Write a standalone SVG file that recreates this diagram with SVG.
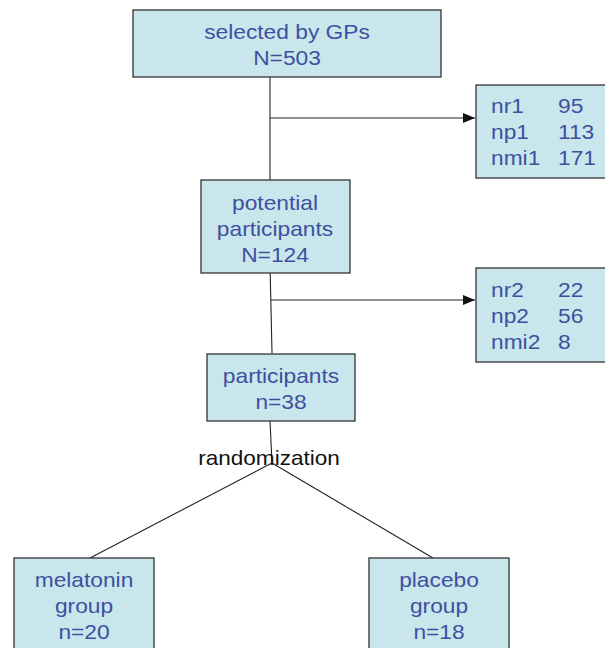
<svg xmlns="http://www.w3.org/2000/svg" width="605" height="648" viewBox="0 0 605 648">
<style>
.box{fill:#c9e6ec;stroke:#333;stroke-width:1.3}
.t{font-family:"Liberation Sans",Arial,sans-serif;font-size:20.5px;fill:#3d50a0}
.c{text-anchor:middle}
.k{font-family:"Liberation Sans",Arial,sans-serif;font-size:20.5px;fill:#111;text-anchor:middle}
.ln{stroke:#222;stroke-width:1.1;fill:none}
</style>
<defs>
<marker id="ah" markerWidth="12" markerHeight="10" refX="12" refY="5" orient="auto" markerUnits="userSpaceOnUse">
<path d="M0,0 L12,5 L0,10 Z" fill="#111"/>
</marker>
</defs>
<rect width="605" height="648" fill="#fff"/>
<g id="connectors">
<line class="ln" x1="270" y1="77" x2="270" y2="180"/>
<line class="ln" x1="270" y1="118" x2="475" y2="118" marker-end="url(#ah)"/>
<line class="ln" x1="270" y1="264" x2="272" y2="353"/>
<line class="ln" x1="271" y1="300" x2="475" y2="300" marker-end="url(#ah)"/>
<line class="ln" x1="270" y1="421" x2="272" y2="463"/>
<line class="ln" x1="272" y1="463" x2="90" y2="558"/>
<line class="ln" x1="272" y1="463" x2="433" y2="558"/>
</g>
<g id="selected">
<rect class="box" x="133" y="10" width="308" height="67"/>
<text class="t c" transform="translate(287,39) scale(1.11,1)">selected by GPs</text>
<text class="t c" transform="translate(287,65) scale(1.11,1)">N=503</text>
</g>
<g id="excl1">
<rect class="box" x="476" y="85" width="135" height="93"/>
<text class="t" transform="translate(491,113) scale(1.11,1)">nr1</text>
<text class="t" transform="translate(558,113) scale(1.11,1)">95</text>
<text class="t" transform="translate(491,139) scale(1.11,1)">np1</text>
<text class="t" transform="translate(558,139) scale(1.11,1)">113</text>
<text class="t" transform="translate(491,165) scale(1.11,1)">nmi1</text>
<text class="t" transform="translate(558,165) scale(1.11,1)">171</text>
</g>
<g id="potential">
<rect class="box" x="201" y="180" width="149" height="93"/>
<text class="t c" transform="translate(275,210) scale(1.11,1)">potential</text>
<text class="t c" transform="translate(275,236) scale(1.11,1)">participants</text>
<text class="t c" transform="translate(275,262) scale(1.11,1)">N=124</text>
</g>
<g id="excl2">
<rect class="box" x="476" y="268" width="135" height="94"/>
<text class="t" transform="translate(491,297) scale(1.11,1)">nr2</text>
<text class="t" transform="translate(558,297) scale(1.11,1)">22</text>
<text class="t" transform="translate(491,323) scale(1.11,1)">np2</text>
<text class="t" transform="translate(558,323) scale(1.11,1)">56</text>
<text class="t" transform="translate(491,349) scale(1.11,1)">nmi2</text>
<text class="t" transform="translate(558,349) scale(1.11,1)">8</text>
</g>
<g id="participants">
<rect class="box" x="207" y="354" width="148" height="67"/>
<text class="t c" transform="translate(281,383) scale(1.11,1)">participants</text>
<text class="t c" transform="translate(281,409) scale(1.11,1)">n=38</text>
</g>
<g id="randomization">
<text class="k" transform="translate(269,465) scale(1.1,1)">randomization</text>
</g>
<g id="melatonin">
<rect class="box" x="14" y="558" width="140" height="100"/>
<text class="t c" transform="translate(84,587) scale(1.11,1)">melatonin</text>
<text class="t c" transform="translate(84,613) scale(1.11,1)">group</text>
<text class="t c" transform="translate(84,639) scale(1.11,1)">n=20</text>
</g>
<g id="placebo">
<rect class="box" x="369" y="558" width="140" height="100"/>
<text class="t c" transform="translate(439,587) scale(1.11,1)">placebo</text>
<text class="t c" transform="translate(439,613) scale(1.11,1)">group</text>
<text class="t c" transform="translate(439,639) scale(1.11,1)">n=18</text>
</g>
</svg>
